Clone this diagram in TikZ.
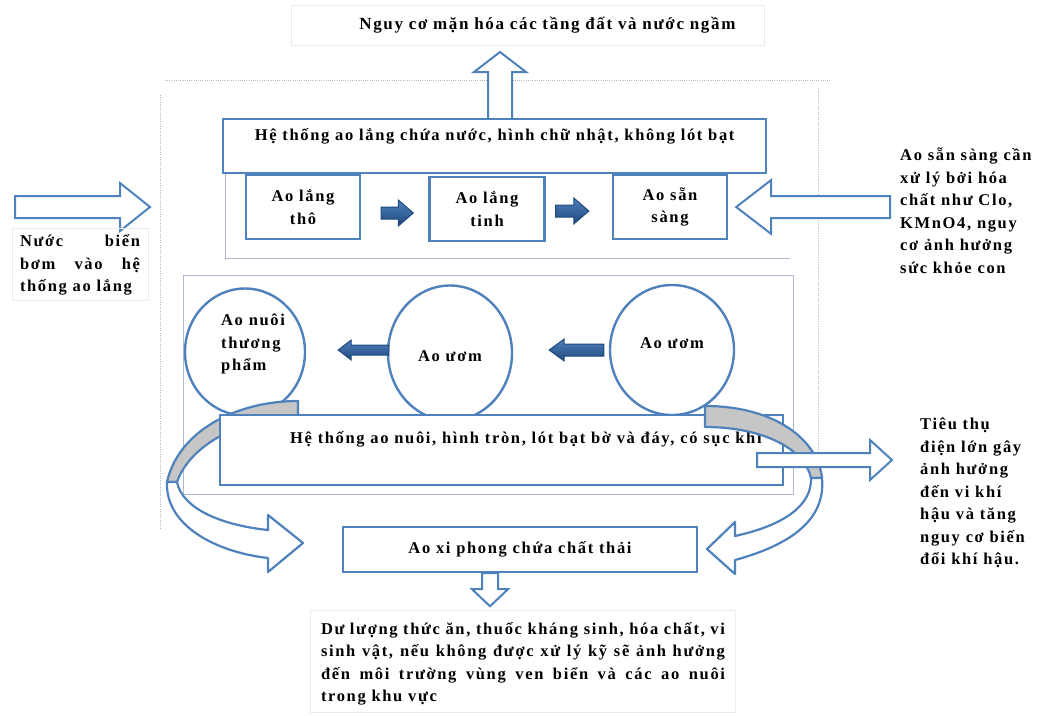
\documentclass[tikz,border=0pt]{standalone}
\usepackage{fontspec}
\setmainfont{Liberation Serif}[LetterSpace=10]
\usetikzlibrary{calc,shapes.geometric}

\definecolor{edge}{RGB}{79,129,189}
\definecolor{navy}{RGB}{31,73,125}
\definecolor{framegray}{RGB}{175,185,205}
\definecolor{backband}{RGB}{198,198,198}

% straight block arrow: style, tail, tip, shaft half width, head half width, head length
\newcommand\blockarrow[6]{%
  \path[#1] ($(#2)!#4!90:(#3)$) -- ($(#3)!#6!(#2)!#4!-90:(#2)$)
    -- ($(#3)!#6!(#2)!#5!-90:(#2)$) -- (#3)
    -- ($(#3)!#6!(#2)!#5!90:(#2)$) -- ($(#3)!#6!(#2)!#4!90:(#2)$)
    -- ($(#2)!#4!-90:(#3)$) -- cycle;}

\tikzset{
  txt/.style={font=\bfseries\fontsize{16.5}{22.5}\selectfont, inner sep=0pt},
  bigtxt/.style={font=\bfseries\fontsize{17}{22.5}\selectfont, inner sep=0pt},
  bluebox/.style={draw=edge, line width=2.4pt, fill=white},
  hollow/.style={draw=edge, line width=2pt, fill=white, line join=miter},
  darkarrow/.style={draw=navy, line width=1pt, top color=edge, bottom color=navy, line join=miter},
  band/.style={draw=edge, line width=2.2pt, line join=round},
  thinframe/.style={draw=framegray, line width=1pt},
  dotframe/.style={draw=framegray, line width=0.9pt, dash pattern=on 1pt off 1.2pt},
  faint/.style={draw=black!8, line width=0.8pt},
}

\begin{document}
\begin{tikzpicture}[x=1pt, y=-1pt]
\useasboundingbox (0,0) rectangle (1038,715);
\fill[white] (0,0) rectangle (1038,715);

% outer dotted frame
\draw[dotframe] (165,80) -- (830,80);
\draw[dotframe] (160,95) -- (160,530);
\draw[dotframe] (818,88) -- (818,505);

% settling area guide lines
\draw[thinframe] (225,172) -- (225,260);
\draw[thinframe] (225,258) -- (790,258);

% top risk note
\node[faint, bigtxt, text width=415pt, align=right, minimum width=473pt, minimum height=40pt]
  (risk) at (528,25) {Nguy cơ mặn hóa các tầng đất và nước ngầm};

% settling system
\coordinate (upTail) at (500,120);
\coordinate (upTip) at (500,52);
\blockarrow{hollow}{upTail}{upTip}{12pt}{26pt}{20pt}

\node[bluebox, minimum width=543pt, minimum height=54pt, anchor=north west] (settle) at (222,118) {};
\node[txt, anchor=base] (settletxt) at ($(settle.north)+(0,22)$)
  {Hệ thống ao lắng chứa nước, hình chữ nhật, không lót bạt};

\node[bluebox, txt, align=center, minimum width=114pt, minimum height=64pt] (raw) at (303,207) {Ao lắng\\thô};
\node[bluebox, txt, align=center, minimum width=115pt, minimum height=64pt] (fine) at (487,209) {Ao lắng\\tinh};
\node[bluebox, txt, align=center, minimum width=114pt, minimum height=64pt] (ready) at (670,207) {Ao sẵn\\sàng};

\coordinate (a1t) at ($(raw.east)+(20,6)$);
\coordinate (a1h) at ($(fine.west)+(-15,4)$);
\blockarrow{darkarrow}{a1t}{a1h}{6pt}{13pt}{15pt}
\coordinate (a2t) at ($(fine.east)+(10,2)$);
\coordinate (a2h) at ($(ready.west)+(-23,4)$);
\blockarrow{darkarrow}{a2t}{a2h}{6pt}{13pt}{15pt}

% sea water inflow
\coordinate (inTail) at (15,207);
\coordinate (inTip) at (150,207);
\blockarrow{hollow}{inTail}{inTip}{11pt}{24pt}{30pt}
\node[faint, minimum width=136pt, minimum height=72pt] (inbox) at (80,264) {};
\node[txt, align=left] (intxt) at (80,265)
  {\makebox[120pt][s]{Nước biển}\\\makebox[120pt][s]{bơm vào hệ}\\thống ao lắng};

% chemical treatment note
\coordinate (chemTail) at (890,207);
\coordinate (chemTip) at ($(ready.east)+(8,0)$);
\blockarrow{hollow}{chemTail}{chemTip}{11pt}{27pt}{35pt}
\node[txt, align=left, anchor=west] (chemtxt) at (900,211)
  {Ao sẵn sàng cần\\xử lý bởi hóa\\chất như Clo,\\KMnO4, nguy\\cơ ảnh hưởng\\sức khỏe con};

% farming area frame
\draw[thinframe] (183,275) rectangle (793,494);

% round ponds
\node[bluebox, ellipse, minimum width=120pt, minimum height=127pt] (grow) at (245,352) {};
\node[txt, align=left, anchor=west] (growtxt) at (221,344) {Ao nuôi\\thương\\phẩm};
\node[bluebox, ellipse, minimum width=124pt, minimum height=135pt] (nurseA) at (450,353) {};
\node[txt] (nurseAtxt) at (450,356) {Ao ươm};
\node[bluebox, ellipse, minimum width=124pt, minimum height=130pt] (nurseB) at (672,350) {};
\node[txt] (nurseBtxt) at (672,343) {Ao ươm};

\coordinate (c1t) at ($(nurseA.west)+(2,-3)$);
\coordinate (c1h) at ($(grow.east)+(32,-2)$);
\blockarrow{darkarrow}{c1t}{c1h}{5pt}{10pt}{13pt}
\coordinate (c2t) at ($(nurseB.west)+(-5,0)$);
\coordinate (c2h) at ($(nurseA.east)+(36,-3)$);
\blockarrow{darkarrow}{c2t}{c2h}{6pt}{11pt}{15pt}

% left curved arrow, back part
\path[band, fill=backband] (298,401) .. controls (235,401) and (178,432) .. (167,482)
  -- (177,482) .. controls (190,445) and (240,418) .. (298,416) -- cycle;

% farming system box
\node[bluebox, minimum width=563pt, minimum height=70pt] (farm) at (501.5,450) {};
\node[txt, anchor=base west] (farmtxt) at (290,443)
  {Hệ thống ao nuôi, hình tròn, lót bạt bờ và đáy, có sục khí};

% left curved arrow, front part
\path[band, fill=white] (167,482) .. controls (165,525) and (215,552) .. (268,558)
  -- (268,572) -- (303,543) -- (268,515) -- (268,530)
  .. controls (220,525) and (182,508) .. (177,482) -- cycle;

% right curved arrow
\path[band, fill=backband] (705,406) .. controls (775,406) and (818,440) .. (822,478)
  -- (811,478) .. controls (805,450) and (765,427) .. (705,427) -- cycle;
\path[band, fill=white] (822,478) .. controls (826,520) and (790,545) .. (735,560)
  -- (735,574) -- (707,549) -- (735,522) -- (735,536)
  .. controls (785,525) and (812,505) .. (811,478) -- cycle;

% energy use note
\coordinate (enTail) at (757,460);
\coordinate (enTip) at (892,460);
\blockarrow{hollow}{enTail}{enTip}{7pt}{20pt}{22pt}
\node[txt, align=left, anchor=west] (entxt) at (920,493)
  {Tiêu thụ\\điện lớn gây\\ảnh hưởng\\đến vi khí\\hậu và tăng\\nguy cơ biến\\đổi khí hậu.};

% siphon pond and residue note
\node[bluebox, txt, minimum width=354pt, minimum height=45pt] (siphon) at (520,549.5) {Ao xi phong chứa chất thải};
\node[faint, minimum width=425pt, minimum height=102pt] (resid) at (522.5,661) {};
\coordinate (dnTail) at ($(siphon.south)+(-30,0)$);
\coordinate (dnTip) at ($(siphon.south)+(-30,33)$);
\blockarrow{hollow}{dnTail}{dnTip}{8pt}{18pt}{17pt}
\node[txt, align=left] (residtxt) at (523,664)
  {\makebox[404pt][s]{Dư lượng thức ăn, thuốc kháng sinh, hóa chất, vi}\\
   \makebox[404pt][s]{sinh vật, nếu không được xử lý kỹ sẽ ảnh hưởng}\\
   \makebox[404pt][s]{đến môi trường vùng ven biển và các ao nuôi}\\
   \makebox[404pt][l]{trong khu vực}};
\end{tikzpicture}
\end{document}
